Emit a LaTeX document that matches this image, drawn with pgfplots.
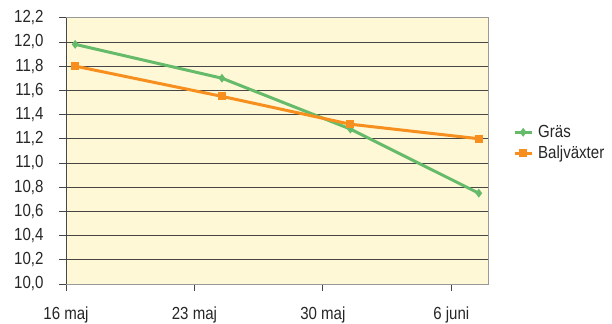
\documentclass[border=0pt]{standalone}
\usepackage{fontspec}
\setmainfont{Liberation Sans}[FakeStretch=0.86]
\usepackage{pgfplots}
\pgfplotsset{compat=1.18}
\definecolor{bgyellow}{RGB}{255,248,214}
\definecolor{grasgreen}{RGB}{102,187,106}
\definecolor{baljorange}{RGB}{247,143,30}
\definecolor{gridc}{RGB}{70,70,70}
\newcommand{\lbl}{\fontsize{17.5bp}{20bp}\selectfont}
\begin{document}
\begin{tikzpicture}
\useasboundingbox (-66bp,-40bp) rectangle (546bp,284bp);
\begin{axis}[
  at={(0,0)}, anchor=south west,
  scale only axis,
  width=422bp, height=266.3bp,
  xmin=0, xmax=23,
  ymin=10, ymax=12.2,
  xtick={0,7,14,21},
  xticklabels={16 maj,23 maj,30 maj,6 juni},
  ytick={10,10.2,...,12.21},
  yticklabel style={/pgf/number format/fixed, /pgf/number format/fixed zerofill,
    /pgf/number format/precision=1, /pgf/number format/use comma},
  /pgf/number format/assume math mode=true,
  tick label style={font=\lbl, text=black!85},
  yticklabel style={xshift=-12bp},
  xticklabel style={yshift=-12bp},
  tick align=outside,
  major tick length=7bp,
  tick style={gridc, line width=0.8bp},
  xtick pos=bottom, ytick pos=left,
  ymajorgrids,
  major grid style={gridc, line width=0.8bp},
  axis background/.style={fill=bgyellow},
  axis line style={draw=gray!80, line width=0.9bp},
  legend style={draw=none, fill=none, font=\lbl, text=black!85,
    at={(axis description cs:1,0.53)}, anchor=west, xshift=22bp,
    row sep=3bp, cells={anchor=west}},
  legend cell align=left,
]
\addplot[grasgreen, line width=3bp, mark=diamond*, mark size=2bp,
  mark options={fill=grasgreen, draw=grasgreen}]
  coordinates {(0.5,11.98) (8.5,11.70) (15.5,11.28) (22.5,10.75)};
\addlegendentry{\hspace{3bp}Gräs}
\addplot[baljorange, line width=3bp, mark=square*, mark size=2.6bp,
  mark options={fill=baljorange, draw=baljorange}]
  coordinates {(0.5,11.80) (8.5,11.55) (15.5,11.32) (22.5,11.20)};
\addlegendentry{\hspace{3bp}Baljväxter}
\draw[gridc, line width=0.9bp] (axis cs:0,10) -- (axis cs:0,12.2);
\end{axis}
\end{tikzpicture}
\end{document}
